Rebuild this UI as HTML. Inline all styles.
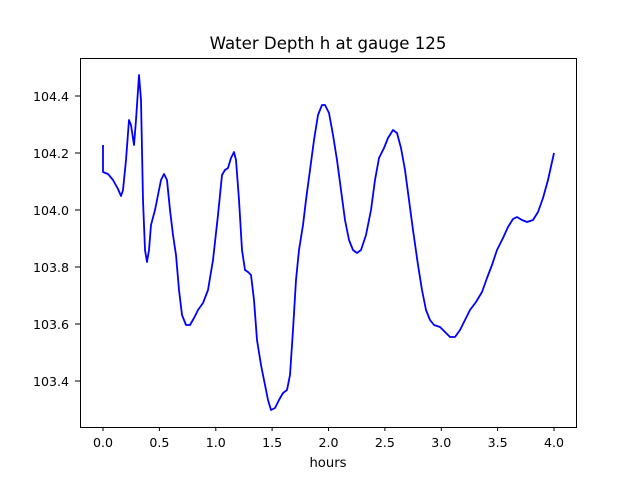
<!DOCTYPE html>
<html><head><style>body{margin:0;background:#fff}svg{display:block}text{font-family:"DejaVu Sans","Liberation Sans",sans-serif;font-size:12.6px;fill:#000}</style></head>
<body>
<svg width="640" height="480" viewBox="0 0 640 480">
<rect width="640" height="480" fill="#fff"/>
<text x="328" y="49" text-anchor="middle" style="font-size:16.6px">Water Depth h at gauge 125</text>
<polyline fill="none" stroke="#0000ff" stroke-width="1.8" stroke-linejoin="round" points="103,145 103,172 108,174 113,180 118,189 121,196 123,190 126,160 129,120 131,125 134,145 136,120 139,75 141,100 143,200 145,250 147,262 149,250 151,225 155,210 158,195 161,180 164,174 167,180 170,210 173,235 176,255 179,290 182,315 186,325 190,325 194,318 198,310 203,303 208,290 213,260 218,215 222,175 225,170 228,168 231,158 234,152 236,160 239,200 242,250 245,270 248,272 251,275 254,300 257,340 261,365 265,385 268,400 271,410 275,408 279,400 283,393 287,390 290,375 293,330 296,280 299,250 303,225 306,200 310,170 314,140 318,115 322,105 325,105 329,113 333,135 337,160 341,190 345,220 349,240 353,250 357,253 361,250 366,235 371,210 375,180 379,158 384,148 388,138 393,130 397,133 401,148 405,170 409,200 413,230 418,265 422,290 426,310 430,320 434,325 440,327 445,332 450,337 455,337 460,330 465,320 470,310 476,302 482,292 487,278 492,265 497,250 503,238 508,227 513,219 517,217 522,220 527,222 533,220 538,212 543,198 548,180 554,153"/>
<rect x="80.5" y="58.5" width="496" height="369" fill="none" stroke="#000" stroke-width="1"/>
<g stroke="#000" stroke-width="1">
<line x1="103" y1="427" x2="103" y2="431"/><line x1="159.4" y1="427" x2="159.4" y2="431"/><line x1="215.8" y1="427" x2="215.8" y2="431"/><line x1="272.1" y1="427" x2="272.1" y2="431"/><line x1="328.5" y1="427" x2="328.5" y2="431"/><line x1="384.9" y1="427" x2="384.9" y2="431"/><line x1="441.3" y1="427" x2="441.3" y2="431"/><line x1="497.6" y1="427" x2="497.6" y2="431"/><line x1="554" y1="427" x2="554" y2="431"/>
<line x1="75" y1="381" x2="80" y2="381"/><line x1="75" y1="324" x2="80" y2="324"/><line x1="75" y1="267" x2="80" y2="267"/><line x1="75" y1="210" x2="80" y2="210"/><line x1="75" y1="153" x2="80" y2="153"/><line x1="75" y1="96" x2="80" y2="96"/>
</g>
<g text-anchor="middle">
<text x="103" y="447">0.0</text><text x="159.4" y="447">0.5</text><text x="215.8" y="447">1.0</text><text x="272.1" y="447">1.5</text><text x="328.5" y="447">2.0</text><text x="384.9" y="447">2.5</text><text x="441.3" y="447">3.0</text><text x="497.6" y="447">3.5</text><text x="554" y="447">4.0</text>
<text x="328" y="467" style="font-size:13.2px">hours</text>
</g>
<g text-anchor="end">
<text x="69" y="386">103.4</text><text x="69" y="329">103.6</text><text x="69" y="272">103.8</text><text x="69" y="215">104.0</text><text x="69" y="158">104.2</text><text x="69" y="101">104.4</text>
</g>
</svg>
</body></html>
